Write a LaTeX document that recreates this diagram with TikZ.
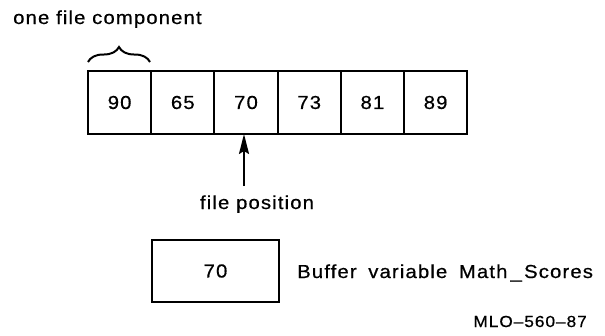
\documentclass[tikz,border=0pt]{standalone}
\usepackage{fontspec}
\setmainfont{Liberation Sans}[FakeStretch=1.08,LetterSpace=6,FakeBold=0.6]
\usetikzlibrary{decorations.pathreplacing,arrows.meta}
\begin{document}
\begin{tikzpicture}[x=1pt,y=-1pt,
  lbl/.style={inner sep=0pt,font=\fontsize{18.8}{20}\selectfont},
  cell/.style={draw,line width=2pt,minimum width=63.2pt,minimum height=63pt,
    inner sep=0pt,anchor=north west,font=\fontsize{18.8}{20}\selectfont},
  bufbox/.style={draw,line width=2pt,minimum width=127pt,minimum height=62pt,
    inner sep=0pt,anchor=north west,font=\fontsize{18.8}{20}\selectfont},
  pointer/.style={line width=2pt,-{Stealth[length=20pt,width=10pt,inset=3pt]}},
  bracket/.style={line width=2pt,decorate,decoration={brace,amplitude=15pt,aspect=0.5}}]
\useasboundingbox (0,0) rectangle (605,335);

% label for one component
\node[lbl,anchor=base west] (comp) at (13,24) {one file component};
\draw[bracket] (88,62) -- (150,62);

% the file, one cell per component
\node[cell] (c1) at (87,70)    {90};
\node[cell] (c2) at (150.2,70) {65};
\node[cell] (c3) at (213.4,70) {70};
\node[cell] (c4) at (276.6,70) {73};
\node[cell] (c5) at (339.8,70) {81};
\node[cell] (c6) at (403,70)   {89};

% file position pointer
\coordinate (fp) at (244,186);
\draw[pointer] (fp) -- (244,134);
\node[lbl,anchor=base] (fplbl) at (257,209) {file position};

% buffer variable
\node[bufbox] (buf) at (151,239) {70};
\node[lbl,anchor=base west] (buflbl) at (297,278)
  {Buffer\hspace{0.62em}variable\hspace{0.62em}Math\,\_\hspace{0.12em}Scores};

\node[lbl,anchor=base east,font=\fontsize{16}{17}\selectfont] (code) at (587,327) {MLO–560–87};
\end{tikzpicture}
\end{document}
